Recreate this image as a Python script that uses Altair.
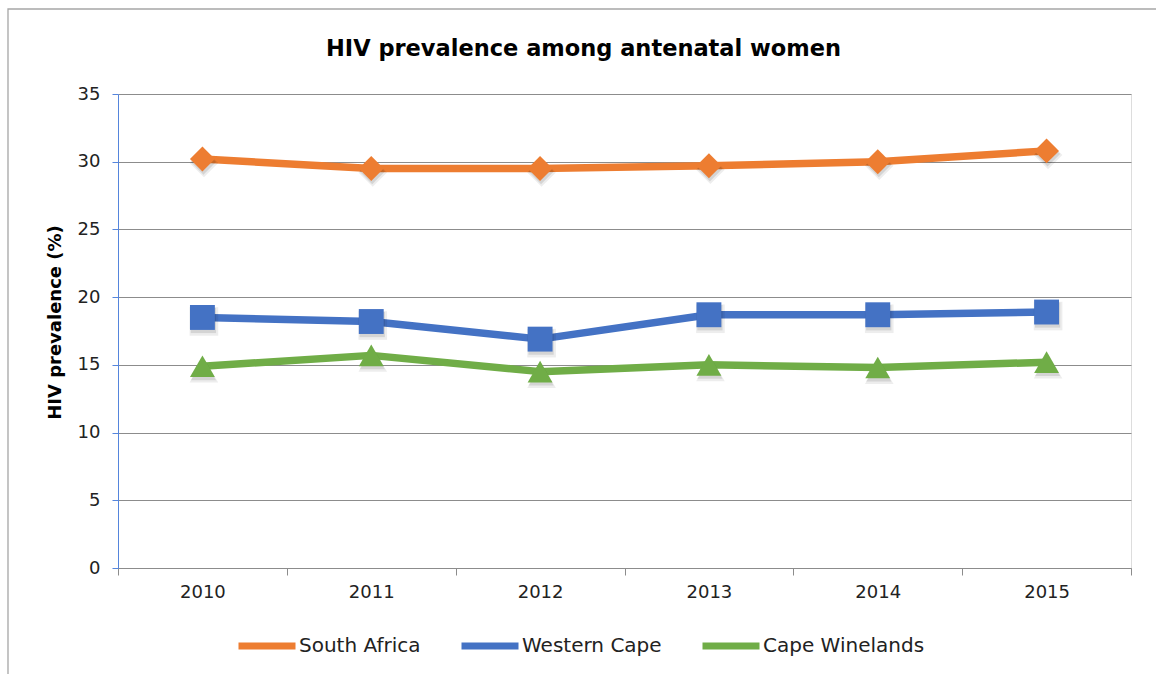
import altair as alt
import pandas as pd

# Antenatal HIV prevalence (%) by year
years = ["2010", "2011", "2012", "2013", "2014", "2015"]
south_africa = [30.2, 29.5, 29.5, 29.7, 30.0, 30.8]
western_cape = [18.5, 18.2, 16.9, 18.7, 18.7, 18.9]
cape_winelands = [14.9, 15.7, 14.5, 15.0, 14.8, 15.2]

series_names = ["South Africa", "Western Cape", "Cape Winelands"]
series_colors = ["#ED7D31", "#4472C4", "#70AD47"]
series_shapes = ["diamond", "square", "triangle-up"]

rows = []
for name, hex_color, shape, values in zip(
    series_names, series_colors, series_shapes,
    [south_africa, western_cape, cape_winelands],
):
    for yr, v in zip(years, values):
        rows.append(
            {"Year": yr, "Region": name, "Shape": shape, "Hex": hex_color, "Prevalence": v}
        )
df = pd.DataFrame(rows)

FONT = "DejaVu Sans"
GRID = "#8c8c8c"
YAXIS = "#5585DC"

x_enc = alt.X(
    "Year:O",
    sort=years,
    scale=alt.Scale(type="band", paddingInner=0, paddingOuter=0),
    axis=alt.Axis(
        title=None, labelAngle=0, labelFontSize=18, labelFont=FONT,
        labelColor="#222222", labelPadding=8, tickBand="extent",
        tickSize=7, tickColor=GRID, domainColor=GRID, grid=False,
    ),
)
y_enc = alt.Y(
    "Prevalence:Q",
    scale=alt.Scale(domain=[0, 35], nice=False, zero=True),
    axis=alt.Axis(
        title="HIV prevalence (%)", titleFont=FONT, titleFontSize=18,
        titleFontWeight="bold", titleColor="#000000", titleAngle=270,
        titleX=-63, titleY=228, titleBaseline="middle", titleAlign="center",
        values=[0, 5, 10, 15, 20, 25, 30, 35], labelFontSize=18,
        labelFont=FONT, labelColor="#222222", labelPadding=12,
        tickSize=6, tickColor=YAXIS, domainColor=YAXIS,
        grid=True, gridColor=GRID, gridWidth=1,
    ),
)
color_scale = alt.Scale(domain=series_names, range=series_colors)

base = alt.Chart(df)

lines = base.mark_line(strokeWidth=7.5, strokeJoin="round", strokeCap="round").encode(
    x=x_enc,
    y=y_enc,
    color=alt.Color(
        "Region:N", scale=color_scale, sort=series_names,
        legend=alt.Legend(
            title=None, orient="none", direction="horizontal",
            legendX=117, legendY=520, symbolType="stroke",
            symbolSize=3249, symbolStrokeWidth=7, labelFont=FONT,
            labelFontSize=20, labelColor="#222222", labelOffset=0,
            columnPadding=26, labelLimit=0,
        ),
    ),
)

# soft drop shadow beneath each marker
shadow_outer = base.mark_point(
    filled=True, color="#000000", opacity=0.07, size=820, xOffset=1.5, yOffset=4
).encode(
    x=x_enc, y=y_enc,
    shape=alt.Shape("Shape:N", scale=None, legend=None),
)
shadow_inner = base.mark_point(
    filled=True, color="#000000", opacity=0.10, size=640, xOffset=1, yOffset=3
).encode(
    x=x_enc, y=y_enc,
    shape=alt.Shape("Shape:N", scale=None, legend=None),
)

markers = base.mark_point(filled=True, opacity=1, size=620).encode(
    x=x_enc, y=y_enc,
    color=alt.Color("Hex:N", scale=None, legend=None),
    shape=alt.Shape("Shape:N", scale=None, legend=None),
)

frame = alt.Chart(pd.DataFrame({"frame": [0]})).mark_rect(
    fill="transparent", stroke="#A6A6A6", strokeWidth=1.3
).encode(
    x=alt.value(-110), x2=alt.value(1070), y=alt.value(-85), y2=alt.value(610)
)

chart = (
    alt.layer(frame, lines, shadow_outer, shadow_inner, markers)
    .properties(
        width=1013,
        height=474,
        title=alt.TitleParams(
            "HIV prevalence among antenatal women", font=FONT, fontSize=22.5,
            fontWeight="bold", color="#000000", anchor="middle", dx=-41,
            baseline="alphabetic", offset=-70, frame="group",
        ),
        autosize=alt.AutoSizeParams(type="none"),
        padding={"left": 118, "top": 94, "right": 25, "bottom": 106},
    )
    .configure_view(stroke=None)
    .configure(background="white")
)

chart.save("out.html", embed_options={"renderer": "svg", "actions": False})
